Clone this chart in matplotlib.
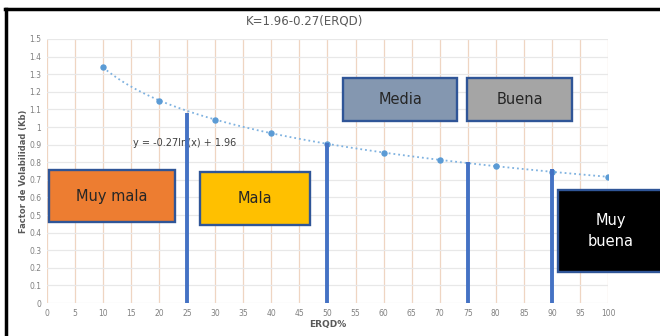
import numpy as np
import matplotlib.pyplot as plt
from matplotlib.patches import Rectangle

# data
erqd = [10, 20, 30, 40, 50, 60, 70, 80, 90, 100]
kb = [1.34, 1.15, 1.04, 0.965, 0.905, 0.855, 0.815, 0.78, 0.745, 0.715]
limits = [25, 50, 75, 90]
limit_kb = [1.08, 0.91, 0.80, 0.76]
classes = ["Muy mala", "Mala", "Media", "Buena", "Muy\nbuena"]

# class boxes: (x0, y0, x1, y1) in data units, face colour, text colour
boxes = [
    (0.4, 0.46, 22.8, 0.755, "#ED7D31", "#262626"),
    (27.3, 0.445, 46.9, 0.745, "#FFC000", "#262626"),
    (52.8, 1.035, 73.1, 1.278, "#8497B0", "#262626"),
    (74.9, 1.035, 93.6, 1.278, "#A5A5A5", "#262626"),
    (91.1, 0.176, 110.0, 0.642, "#000000", "#FFFFFF"),
]

fig = plt.figure(figsize=(6.6, 3.36), dpi=100)
ax = fig.add_axes([0.0712, 0.098, 0.850, 0.786])

ax.set_xlim(0, 100)
ax.set_ylim(0, 1.5)
ax.set_xticks(np.arange(0, 101, 5))
ax.set_yticks(np.arange(0, 1.51, 0.1))
ax.set_yticklabels(["0"] + ["%g" % round(v, 1) for v in np.arange(0.1, 1.51, 0.1)])
ax.tick_params(length=0, labelsize=5.5, labelcolor="#808080", pad=4)
for s in ax.spines.values():
    s.set_visible(False)
ax.xaxis.grid(True, color="#EFD5C2", lw=0.9)
ax.yaxis.grid(True, color="#E8E8E8", lw=0.9)
ax.set_axisbelow(True)

# log trendline fitted on the points
a, b = np.polyfit(np.log(erqd), kb, 1)
xs = np.linspace(10, 100, 200)
ax.plot(xs, a * np.log(xs) + b, ls=":", color="#7FB2E0", lw=1.3, zorder=2)
ax.plot(erqd, kb, "o", color="#5B9BD5", ms=3.6, zorder=3)

ax.text(15.3, 0.91, "y = -0.27ln(x) + 1.96", fontsize=7, color="#404040",
        ha="left", va="center", zorder=2)

ax.vlines(limits, 0, limit_kb, color="#4472C4", lw=2.8, zorder=4)

for (x0, y0, x1, y1, fc, tc), name in zip(boxes, classes):
    r = Rectangle((x0, y0), x1 - x0, y1 - y0, facecolor=fc, edgecolor="#2F5597",
                  lw=1.7, clip_on=False, zorder=5)
    ax.add_patch(r)
    ax.text((x0 + x1) / 2, (y0 + y1) / 2, name, ha="center", va="center",
            fontsize=10.5, color=tc, zorder=6, clip_on=False, linespacing=1.5)

ax.set_xlabel("ERQD%", fontsize=6.5, fontweight="bold", color="#595959", labelpad=2)
ax.set_ylabel("Factor de Volabilidad (Kb)", fontsize=6, fontweight="bold",
              color="#595959", labelpad=1)
fig.text(0.462, 0.938, "K=1.96-0.27(ERQD)", ha="center", va="center",
         fontsize=8.5, color="#595959")

# black frame lines at top and left of the screenshot
fig.add_artist(plt.Line2D([0.008, 1.0], [0.973, 0.973], color="black", lw=2.5))
fig.add_artist(plt.Line2D([0.009, 0.009], [0.0, 0.973], color="black", lw=2.5))

fig.savefig("out.png", dpi=100)
